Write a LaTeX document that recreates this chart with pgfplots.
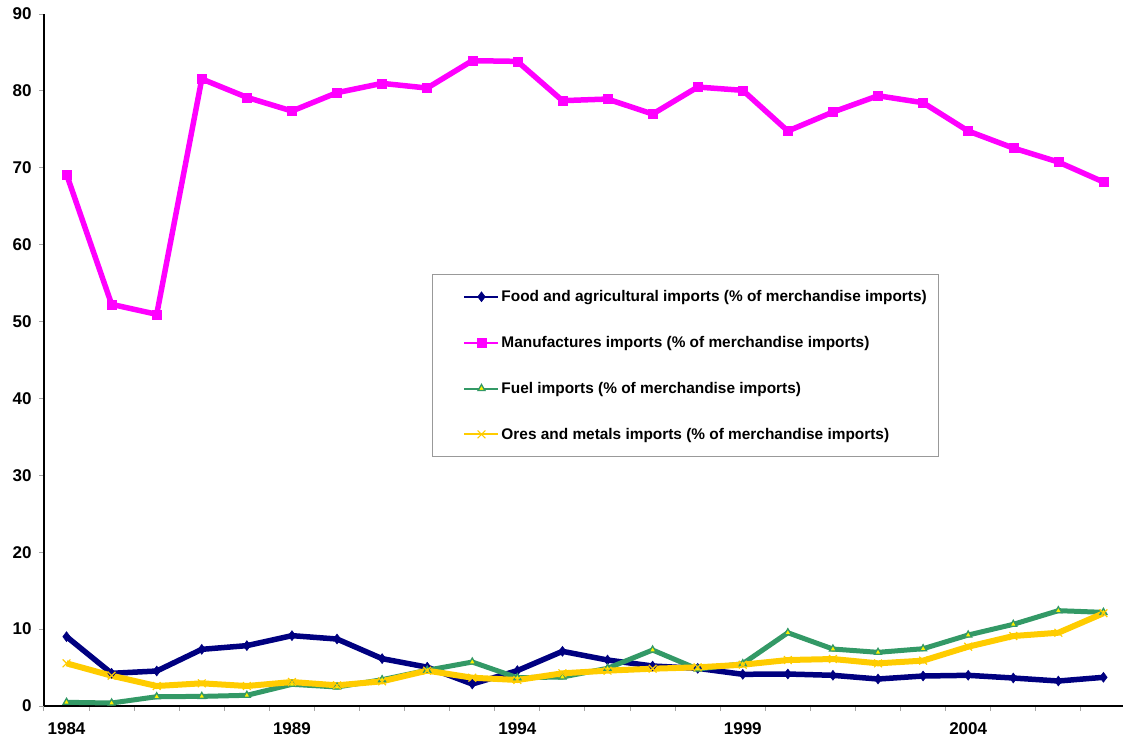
\documentclass[border=0pt]{standalone}
\usepackage{pgfplots}
\pgfplotsset{compat=1.18}
\usepackage{fontspec}
\setmainfont{Liberation Sans}
\definecolor{cnavy}{HTML}{000080}
\definecolor{cmag}{HTML}{FF00FF}
\definecolor{cgreen}{HTML}{339966}
\definecolor{cyel}{HTML}{FFCC00}
\begin{document}
\begin{tikzpicture}
\useasboundingbox (-44bp,-40bp) rectangle (1079bp,706bp);
\begin{axis}[
  scale only axis,
  width=1082bp, height=692bp,
  xmin=1983.5, xmax=2007.5,
  ymin=0, ymax=90,
  axis x line*=bottom, axis y line*=left,
  axis line style={black, line width=1.3bp, -},
  tick align=outside,
  major tick length=5bp,
  tick style={gray!70, line width=1bp},
  xtick={1983.5,1984.5,...,2007.5},
  xticklabels={},
  extra x ticks={1984,1989,1994,1999,2004},
  extra x tick labels={1984,1989,1994,1999,2004},
  extra x tick style={major tick length=0pt, tick label style={yshift=-13bp}},
  ytick={0,10,...,90},
  /pgf/number format/assume math mode=true,
  tick label style={font=\fontsize{17bp}{20bp}\selectfont\bfseries},
  yticklabel style={xshift=-4bp},
  legend cell align=left,
  legend image code/.code={\path[draw=none,fill=none] (0bp,0bp) -- (21bp,0bp);\draw[mark repeat=2,mark phase=2,#1] plot coordinates {(21bp,0bp) (38bp,0bp) (55bp,0bp)};},
  legend image post style={line width=2bp},
  legend style={at={(0.3586,0.6243)}, anchor=north west,
    draw=gray!80, line width=1bp, fill=white,
    font=\fontsize{15.4bp}{18bp}\selectfont\bfseries,
    inner xsep=11bp, inner ysep=15bp, row sep=31.2bp,
    nodes={inner sep=1bp},
    /tikz/every odd column/.append style={column sep=1bp}},
]
\addplot[cnavy, line width=5.5bp, mark=diamond*, mark size=5bp, mark options={line width=0.5bp}] coordinates {
(1984,9.02) (1985,4.25) (1986,4.55) (1987,7.37) (1988,7.85) (1989,9.15) (1990,8.71) (1991,6.16)
(1992,5.05) (1993,2.86) (1994,4.6) (1995,7.11) (1996,5.98) (1997,5.2) (1998,4.9) (1999,4.12)
(2000,4.16) (2001,3.99) (2002,3.51) (2003,3.9) (2004,3.99) (2005,3.64) (2006,3.25) (2007,3.73)};
\addlegendentry{Food and agricultural imports (\% of merchandise imports)}
\addplot[cmag, line width=5.5bp, mark=square*, mark size=4.5bp, mark options={line width=0.5bp}] coordinates {
(1984,69.15) (1985,52.24) (1986,50.94) (1987,81.55) (1988,79.16) (1989,77.38) (1990,79.77) (1991,80.98)
(1992,80.37) (1993,83.93) (1994,83.84) (1995,78.73) (1996,78.94) (1997,76.99) (1998,80.5) (1999,80.07)
(2000,74.78) (2001,77.25) (2002,79.37) (2003,78.46) (2004,74.78) (2005,72.57) (2006,70.75) (2007,68.15)};
\addlegendentry{Manufactures imports (\% of merchandise imports)}
\addplot[cgreen, line width=5bp, mark=triangle*, mark size=4bp, mark options={line width=1.3bp, fill=yellow, draw=cgreen}] coordinates {
(1984,0.48) (1985,0.39) (1986,1.21) (1987,1.25) (1988,1.39) (1989,2.82) (1990,2.47) (1991,3.42)
(1992,4.65) (1993,5.72) (1994,3.68) (1995,3.77) (1996,4.9) (1997,7.28) (1998,4.8) (1999,5.5)
(2000,9.53) (2001,7.41) (2002,6.98) (2003,7.45) (2004,9.23) (2005,10.62) (2006,12.4) (2007,12.18)};
\addlegendentry{Fuel imports (\% of merchandise imports)}
\addplot[cyel, line width=6bp, mark=x, mark size=5.5bp, mark options={line width=1.2bp}] coordinates {
(1984,5.55) (1985,3.94) (1986,2.6) (1987,2.95) (1988,2.6) (1989,3.12) (1990,2.69) (1991,3.21)
(1992,4.6) (1993,3.68) (1994,3.38) (1995,4.25) (1996,4.6) (1997,4.85) (1998,5.03) (1999,5.37)
(2000,5.98) (2001,6.11) (2002,5.55) (2003,5.9) (2004,7.71) (2005,9.1) (2006,9.53) (2007,12.06)};
\addlegendentry{Ores and metals imports (\% of merchandise imports)}
\end{axis}
\end{tikzpicture}
\end{document}
